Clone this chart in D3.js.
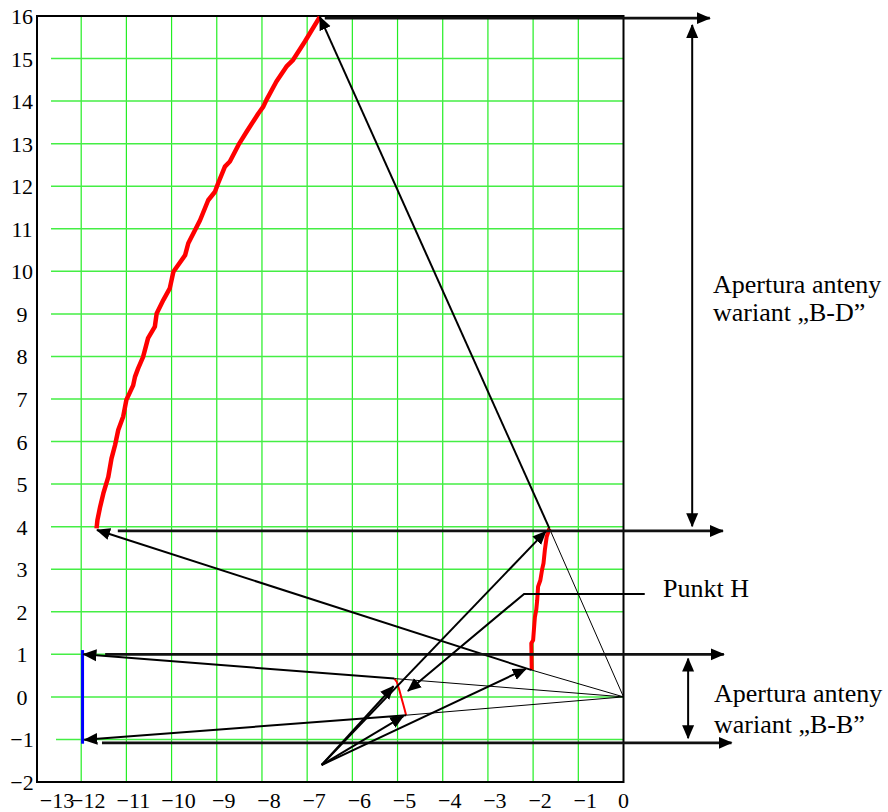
<!DOCTYPE html>
<html>
<head>
<meta charset="utf-8">
<script src="https://cdn.jsdelivr.net/npm/d3@7"></script>
<style>
  html, body { margin: 0; padding: 0; background: #fff; }
</style>
</head>
<body>
<svg id="chart" width="888" height="812" font-family="'Liberation Serif', 'Times New Roman', serif"></svg>
<script>
// ---------------- data ----------------
const xTicks = [-13, -12, -11, -10, -9, -8, -7, -6, -5, -4, -3, -2, -1, 0];
const yTicks = [-2, -1, 0, 1, 2, 3, 4, 5, 6, 7, 8, 9, 10, 11, 12, 13, 14, 15, 16];

// upper red curve (B-D aperture trace)
const curveBD_x = [-11.66, -11.64, -11.58, -11.51, -11.40, -11.33, -11.25, -11.18, -11.07, -11.00,
  -10.85, -10.81, -10.74, -10.63, -10.52, -10.37, -10.33, -10.18, -10.04, -9.96, -9.70, -9.63,
  -9.37, -9.19, -9.04, -8.97, -8.82, -8.71, -8.52, -8.34, -8.08, -7.97, -7.90, -7.68, -7.46,
  -7.31, -7.05, -6.72];
const curveBD_y = [3.96, 4.16, 4.47, 4.78, 5.17, 5.60, 5.92, 6.27, 6.59, 6.98,
  7.32, 7.52, 7.72, 7.99, 8.43, 8.70, 9.01, 9.33, 9.60, 9.99, 10.38, 10.66,
  11.20, 11.67, 11.87, 12.07, 12.46, 12.58, 12.97, 13.28, 13.71, 13.87, 14.03, 14.46, 14.81,
  14.97, 15.40, 15.98];

// lower-right red curve
const curveH_x = [-2.03, -2.04, -2.00, -1.97, -1.96, -1.93, -1.91, -1.89, -1.84, -1.80, -1.77, -1.74, -1.70, -1.64];
const curveH_y = [0.63, 1.26, 1.33, 1.75, 1.88, 2.05, 2.27, 2.59, 2.74, 3.00, 3.14, 3.45, 3.76, 3.96];

// thin red curve near x = -5
const curveBB_x = [-5.07, -5.02, -4.96, -4.91, -4.87, -4.84, -4.81];
const curveBB_y = [0.43, 0.36, 0.16, -0.04, -0.19, -0.31, -0.43];

// blue aperture segment
const blue_x = [-11.97, -11.97];
const blue_y = [-1.1, 1.1];

// annotation lines: [x1, y1, x2, y2, kind]
const arrowLines = [
  [-6.61, 15.95, 1.91, 15.95, "hline"],
  [-1.64, 3.96, -6.72, 15.98, "thick"],
  [-1.64, 3.96, 0, 0, "thin"],
  [-11.19, 3.90, 2.20, 3.90, "hline"],
  [-2.03, 0.63, -11.65, 3.92, "thick"],
  [-2.03, 0.63, 0, 0, "thin"],
  [-11.47, 1.00, 2.22, 1.00, "hline"],
  [-5.07, 0.43, -11.95, 1.00, "thick"],
  [-5.07, 0.43, 0, 0, "thin"],
  [-4.81, -0.43, -11.93, -1.01, "thick"],
  [-4.81, -0.43, 0, 0, "thin"],
  [-11.54, -1.08, 2.39, -1.08, "hline"],
  [-6.68, -1.60, -1.72, 3.89, "thick"],
  [-6.68, -1.60, -2.16, 0.66, "thick"],
  [-6.68, -1.60, -5.09, 0.25, "thick"],
  [-6.68, -1.60, -4.87, -0.45, "thick"],
  [1.52, 15.79, 1.52, 4.01, "both"],
  [1.43, 0.90, 1.43, -0.97, "both"]
];

// "Punkt H" leader polyline
const punktH_x = [0.47, -2.20, -4.77];
const punktH_y = [2.42, 2.42, 0.14];

// ---------------- layout ----------------
const FONT = "'Liberation Serif', 'Times New Roman', serif";
const svg = d3.select("#chart");
svg.append("rect").attr("width", 888).attr("height", 812).attr("fill", "#fff");

const x = d3.scaleLinear().domain([-13, 0]).range([36, 623.5]);
const y = d3.scaleLinear().domain([-2, 16]).range([782, 16]);

const defs = svg.append("defs");
defs.append("marker")
  .attr("id", "arr")
  .attr("markerUnits", "userSpaceOnUse")
  .attr("viewBox", "0 0 14 14")
  .attr("markerWidth", 14).attr("markerHeight", 14)
  .attr("refX", 13).attr("refY", 7)
  .attr("orient", "auto-start-reverse")
  .append("path").attr("d", "M0,1 L14,7 L0,13 Z").attr("fill", "#000");

// grid
const grid = svg.append("g");
grid.selectAll("line.v").data(xTicks.filter(d => d > -13 && d < 0)).join("line")
  .attr("x1", d => x(d)).attr("x2", d => x(d))
  .attr("y1", y(16)).attr("y2", y(-2))
  .attr("stroke", "#22ee22").attr("stroke-width", 1.2);
grid.selectAll("line.h").data(yTicks.filter(d => d > -2 && d < 16)).join("line")
  .attr("x1", d => d === -1 ? 56 : 51).attr("x2", x(0))
  .attr("y1", d => y(d)).attr("y2", d => y(d))
  .attr("stroke", "#44ee44").attr("stroke-width", 1.5);

// frame
svg.append("rect")
  .attr("x", x(-13) + 1).attr("y", y(16))
  .attr("width", x(0) - x(-13) - 1).attr("height", y(-2) - y(16))
  .attr("fill", "none").attr("stroke", "#000").attr("stroke-width", 2);

// tick labels
svg.append("g").selectAll("text").data(xTicks).join("text")
  .attr("font-family", FONT)
  .attr("x", d => d === 0 ? x(d) : (d === -13 ? 57 : x(d) + 7))
  .attr("y", 808)
  .attr("text-anchor", "middle")
  .attr("font-size", 22)
  .text(d => d < 0 ? "\u2212" + Math.abs(d) : String(d));

svg.append("g").selectAll("text").data(yTicks).join("text")
  .attr("font-family", FONT)
  .attr("x", 22)
  .attr("y", d => y(d) + 8)
  .attr("text-anchor", "middle")
  .attr("font-size", 22)
  .text(d => d < 0 ? "\u2212" + Math.abs(d) : String(d));

// curves
const line = d3.line().x(d => x(d[0])).y(d => y(d[1]));
function drawCurve(xs, ys, color, w) {
  svg.append("path")
    .attr("d", line(d3.zip(xs, ys)))
    .attr("fill", "none").attr("stroke", color)
    .attr("stroke-width", w).attr("stroke-linejoin", "round");
}
drawCurve(curveBD_x, curveBD_y, "#ff0000", 4.5);
drawCurve(curveH_x, curveH_y, "#ff0000", 4);
drawCurve(curveBB_x, curveBB_y, "#ff0000", 2);
drawCurve(blue_x, blue_y, "#0000ff", 3);

// annotation arrows
const ann = svg.append("g");
arrowLines.forEach(([x1, y1, x2, y2, kind]) => {
  const l = ann.append("line")
    .attr("x1", x(x1)).attr("y1", y(y1))
    .attr("x2", x(x2)).attr("y2", y(y2))
    .attr("stroke", kind === "hline" ? "#111" : "#000")
    .attr("stroke-width", kind === "thin" ? 1 : (kind === "hline" ? 2.6 : 2));
  if (kind !== "thin") l.attr("marker-end", "url(#arr)");
  if (kind === "both") l.attr("marker-start", "url(#arr)");
});

ann.append("path")
  .attr("d", line(d3.zip(punktH_x, punktH_y)))
  .attr("fill", "none").attr("stroke", "#000").attr("stroke-width", 2)
  .attr("marker-end", "url(#arr)");

// labels
svg.append("text").attr("font-family", FONT).attr("x", 663).attr("y", 597).attr("font-size", 26).text("Punkt H");
const bd = svg.append("text").attr("font-family", FONT).attr("font-size", 26);
bd.append("tspan").attr("x", 713).attr("y", 293).text("Apertura anteny");
bd.append("tspan").attr("x", 713).attr("y", 321).text("wariant \u201EB-D\u201D");
const bb = svg.append("text").attr("font-family", FONT).attr("font-size", 26);
bb.append("tspan").attr("x", 714).attr("y", 702).text("Apertura anteny");
bb.append("tspan").attr("x", 714).attr("y", 733).text("wariant \u201EB-B\u201D");
</script>
</body>
</html>
